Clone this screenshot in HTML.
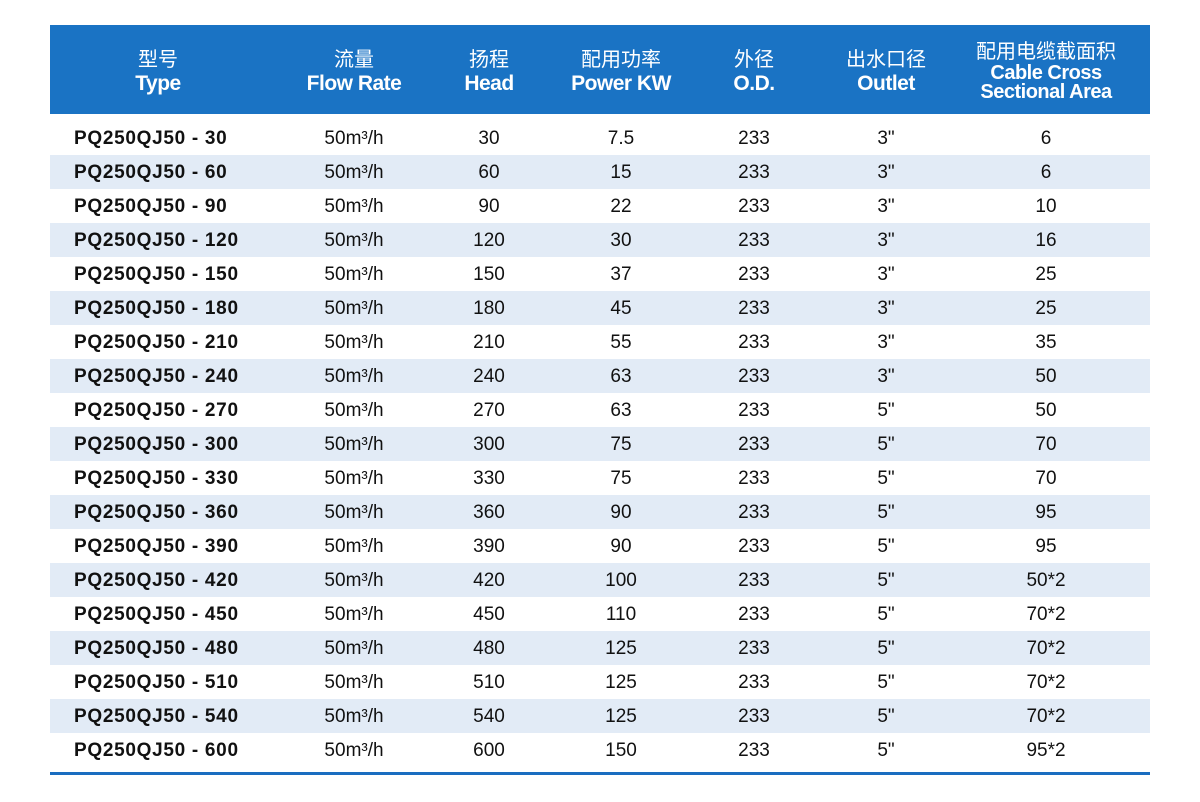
<!DOCTYPE html>
<html><head><meta charset="utf-8"><style>
body{margin:0;width:1200px;height:802px;background:#fff;position:relative;font-family:"Liberation Sans","Noto Sans CJK SC",sans-serif;overflow:hidden}
.hdr{position:absolute;left:50px;top:25px;width:1100px;height:89px;background:#1a73c4}
.h{position:absolute;top:0;color:#fff;text-align:center;font-weight:bold;transform:translateX(-50%);white-space:nowrap}
.h .c{position:absolute;left:50%;transform:translateX(-50%);top:18px;font-size:20px;font-weight:normal}
.h .e{position:absolute;left:50%;transform:translateX(-50%);top:47px;font-size:21px;letter-spacing:-0.5px}
.row{position:absolute;left:50px;width:1100px;height:34px}
.row.b{background:#e2ebf6}
.row span{position:absolute;top:7px;font-size:19px;color:#111;transform:translateX(-50%);white-space:nowrap}
.row span.t{transform:none;left:24px;font-weight:bold;letter-spacing:0.7px}
.line{position:absolute;left:50px;top:772px;width:1100px;height:3px;background:#1a6dc0}
</style></head><body>
<div class="hdr">
<div class="h" style="left:108px"><div class="c">型号</div><div class="e">Type</div></div>
<div class="h" style="left:304px"><div class="c">流量</div><div class="e">Flow Rate</div></div>
<div class="h" style="left:439px"><div class="c">扬程</div><div class="e">Head</div></div>
<div class="h" style="left:571px"><div class="c">配用功率</div><div class="e">Power KW</div></div>
<div class="h" style="left:704px"><div class="c">外径</div><div class="e">O.D.</div></div>
<div class="h" style="left:836px"><div class="c">出水口径</div><div class="e">Outlet</div></div>
<div class="h" style="left:996px"><div class="c" style="top:10px">配用电缆截面积</div><div class="e" style="top:39px;font-size:20px;line-height:19px">Cable Cross<br>Sectional Area</div></div>
</div>
<div id="rows"></div>
<div class="line"></div>
<script>
var d=[[30,30,"7.5",'3"',6],[60,60,15,'3"',6],[90,90,22,'3"',10],[120,120,30,'3"',16],[150,150,37,'3"',25],[180,180,45,'3"',25],[210,210,55,'3"',35],[240,240,63,'3"',50],[270,270,63,'5"',50],[300,300,75,'5"',70],[330,330,75,'5"',70],[360,360,90,'5"',95],[390,390,90,'5"',95],[420,420,100,'5"',"50*2"],[450,450,110,'5"',"70*2"],[480,480,125,'5"',"70*2"],[510,510,125,'5"',"70*2"],[540,540,125,'5"',"70*2"],[600,600,150,'5"',"95*2"]];
var h="";
d.forEach(function(r,i){
h+='<div class="row'+(i%2?' b':'')+'" style="top:'+(121+i*34)+'px"><span class="t">PQ250QJ50 - '+r[0]+'</span><span style="left:304px">50m³/h</span><span style="left:439px">'+r[1]+'</span><span style="left:571px">'+r[2]+'</span><span style="left:704px">233</span><span style="left:836px">'+r[3]+'</span><span style="left:996px">'+r[4]+'</span></div>';
});
document.getElementById("rows").innerHTML=h;
</script>
</body></html>
